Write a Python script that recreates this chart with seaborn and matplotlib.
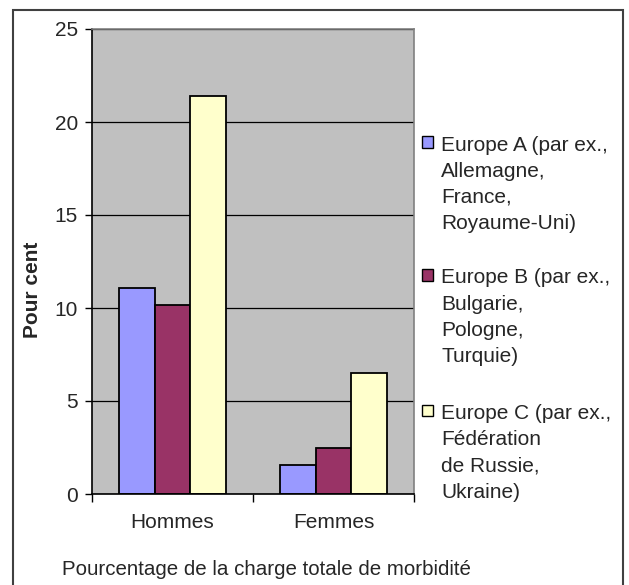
import matplotlib
matplotlib.use("Agg")
import matplotlib.pyplot as plt
import matplotlib.patches as mpatches
import seaborn as sns
import pandas as pd

categories = ["Hommes", "Femmes"]
series = ["Europe A (par ex.,\nAllemagne,\nFrance,\nRoyaume-Uni)",
          "Europe B (par ex.,\nBulgarie,\nPologne,\nTurquie)",
          "Europe C (par ex.,\nFédération\nde Russie,\nUkraine)"]
europe_a = [11.1, 1.55]
europe_b = [10.15, 2.5]
europe_c = [21.4, 6.5]
colors = ["#9999FF", "#993366", "#FFFFCC"]
yticks = [0, 5, 10, 15, 20, 25]
ylabel = "Pour cent"
xlabel = "Pourcentage de la charge totale de morbidité"

rows = []
for s, vals in zip(series, [europe_a, europe_b, europe_c]):
    for c, v in zip(categories, vals):
        rows.append({"cat": c, "series": s, "val": v})
df = pd.DataFrame(rows)

sns.set_theme(style="white")
plt.rcParams["font.family"] = ["Liberation Sans", "DejaVu Sans"]

FS = 15
fig = plt.figure(figsize=(6.29, 5.85), dpi=100)
W, H = 629, 585
ax = fig.add_axes([92 / W, 1 - 494 / H, (414 - 92) / W, (494 - 29) / H])
ax.set_facecolor("#C0C0C0")

sns.barplot(data=df, x="cat", y="val", hue="series", order=categories,
            hue_order=series, palette=colors, edgecolor="black", linewidth=1.3,
            width=0.67, legend=False, ax=ax, saturation=1)

ax.set_ylim(0, 25)
ax.set_xlim(-0.5, 1.5)
ax.set_yticks(yticks)
ax.set_yticklabels([str(t) for t in yticks], fontsize=FS)
ax.yaxis.grid(True, color="black", linewidth=0.9)
ax.set_axisbelow(True)
ax.tick_params(axis="y", length=5, width=1, color="black", pad=5, left=True, direction="out")
ax.tick_params(axis="x", length=0, pad=14, labelsize=FS)
ax.set_xticks([-0.5, 0.5, 1.5], minor=True)
ax.tick_params(axis="x", which="minor", length=6, width=1, color="black", bottom=True, direction="out")
ax.set_xlabel("")
ax.set_ylabel("")
for sp in ["left", "bottom"]:
    ax.spines[sp].set_color("black")
    ax.spines[sp].set_linewidth(1.2)
for sp in ["top", "right"]:
    ax.spines[sp].set_color("#808080")
    ax.spines[sp].set_linewidth(1.2)

fig.text(33 / W, 1 - 290 / H, ylabel, rotation=90, fontsize=FS, fontweight="bold",
         ha="center", va="center")
fig.text(62 / W, 1 - 575 / H, xlabel, fontsize=14.8, ha="left", va="baseline")

# legend
tops = [135.5, 268.5, 404]
for s, col, t in zip(series, colors, tops):
    fig.patches.append(mpatches.Rectangle((422 / W, 1 - (t + 12) / H), 11 / W, 11.5 / H,
                                          transform=fig.transFigure, facecolor=col,
                                          edgecolor="black", linewidth=1.0))
    fig.text(441 / W, 1 - t / H, s, fontsize=FS, ha="left", va="top", linespacing=1.48)

# outer border
fig.patches.append(mpatches.Rectangle((13 / W, -0.02), (623 - 13) / W, 1.02 - 10 / H,
                                      transform=fig.transFigure, fill=False,
                                      edgecolor="#404040", linewidth=1.5))

fig.savefig("out.png", dpi=100)
